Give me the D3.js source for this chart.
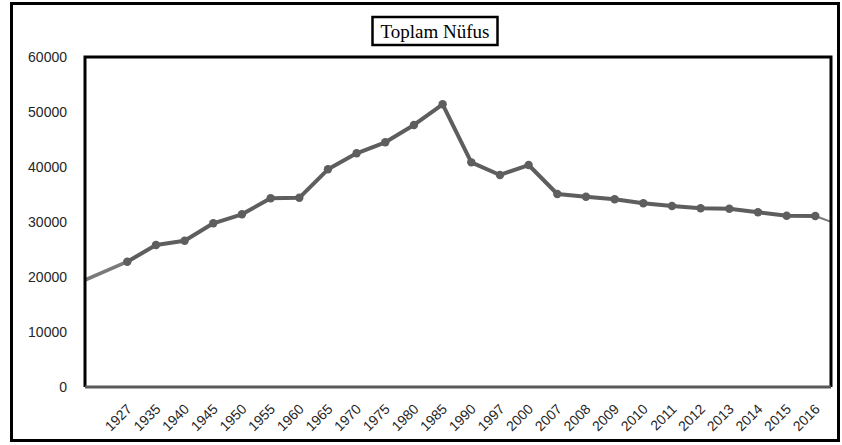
<!DOCTYPE html>
<html>
<head>
<meta charset="utf-8">
<script src="https://cdn.jsdelivr.net/npm/d3@7"></script>
<style>
  html, body { margin: 0; padding: 0; background: #fff; }
  svg { display: block; }
</style>
</head>
<body>
<svg id="chart"></svg>
<script>
// Data
const years = ['1927', '1935', '1940', '1945', '1950', '1955', '1960', '1965', '1970', '1975',
  '1980', '1985', '1990', '1997', '2000', '2007', '2008', '2009', '2010', '2011',
  '2012', '2013', '2014', '2015', '2016'];
const population = [22780, 25820, 26600, 29760, 31400, 34310, 34400, 39580, 42490, 44490,
  47640, 51400, 40850, 38550, 40360, 35090, 34600, 34130, 33400, 32910,
  32490, 32420, 31760, 31150, 31090];
// line continues to the plot edges (values where it meets the frame)
const edgeValues = [19450, 30050];
const yTicks = [0, 10000, 20000, 30000, 40000, 50000, 60000];
const title = 'Toplam Nüfus';

const width = 842;
const height = 445;
const plot = { left: 85, right: 831, top: 57, bottom: 387 };

const svg = d3.select('#chart')
  .attr('width', width)
  .attr('height', height);

// Outer frame
svg.append('rect')
  .attr('x', 11.5)
  .attr('y', 3.5)
  .attr('width', 827)
  .attr('height', 437)
  .attr('fill', 'none')
  .attr('stroke', '#000')
  .attr('stroke-width', 3);

// Scales
const xScale = d3.scalePoint()
  .domain(years)
  .range([127.3, 815.3]);

const yScale = d3.scaleLinear()
  .domain([0, 60000])
  .range([plot.bottom, plot.top]);

// Y axis labels
const yAxis = d3.axisLeft(yScale)
  .tickValues(yTicks)
  .tickSize(0)
  .tickPadding(0)
  .tickFormat(d => d);

svg.append('g')
  .attr('transform', 'translate(67,0)')
  .call(yAxis)
  .call(g => g.select('.domain').remove())
  .selectAll('text')
  .attr('dy', '0.35em')
  .style('font-family', '"Liberation Sans", Arial, sans-serif')
  .style('font-size', '14px')
  .style('fill', '#262626');

// X axis labels, rotated
const xAxis = d3.axisBottom(xScale)
  .tickSize(0)
  .tickPadding(0);

svg.append('g')
  .attr('transform', `translate(0,${plot.bottom})`)
  .call(xAxis)
  .call(g => g.select('.domain').remove())
  .selectAll('text')
  .attr('y', 0)
  .attr('dy', 0)
  .attr('transform', 'translate(5,23) rotate(-45)')
  .style('text-anchor', 'end')
  .style('font-family', '"Liberation Sans", Arial, sans-serif')
  .style('font-size', '14px')
  .style('fill', '#262626');

// Clip for the line
svg.append('defs').append('clipPath')
  .attr('id', 'plot-clip')
  .append('rect')
  .attr('x', plot.left)
  .attr('y', plot.top)
  .attr('width', plot.right - plot.left)
  .attr('height', plot.bottom - plot.top);

const lineGen = d3.line()
  .x(d => d[0])
  .y(d => yScale(d[1]));

const pts = years.map((y, i) => [xScale(y), population[i]]);

// Edge segments (lighter)
svg.append('path')
  .attr('clip-path', 'url(#plot-clip)')
  .attr('d', lineGen([[plot.left, edgeValues[0]], pts[0]]))
  .attr('fill', 'none')
  .attr('stroke', '#7a7a7a')
  .attr('stroke-width', 3.5);

svg.append('path')
  .attr('clip-path', 'url(#plot-clip)')
  .attr('d', lineGen([pts[pts.length - 1], [plot.right, edgeValues[1]]]))
  .attr('fill', 'none')
  .attr('stroke', '#7a7a7a')
  .attr('stroke-width', 2);

// Main line
svg.append('path')
  .attr('d', lineGen(pts))
  .attr('fill', 'none')
  .attr('stroke', '#5e5e5e')
  .attr('stroke-width', 4)
  .attr('stroke-linejoin', 'round');

// Markers
svg.append('g')
  .selectAll('circle')
  .data(pts)
  .enter()
  .append('circle')
  .attr('cx', d => d[0])
  .attr('cy', d => yScale(d[1]))
  .attr('r', 4.2)
  .attr('fill', '#5e5e5e');

// Plot frame
svg.append('path')
  .attr('d', `M${plot.left},${plot.bottom} V${plot.top} H${plot.right} V${plot.bottom}`)
  .attr('fill', 'none')
  .attr('stroke', '#000')
  .attr('stroke-width', 3);

// X axis line
svg.append('line')
  .attr('x1', plot.left)
  .attr('x2', plot.right)
  .attr('y1', plot.bottom)
  .attr('y2', plot.bottom)
  .attr('stroke', '#595959')
  .attr('stroke-width', 3);

// Title box
const titleG = svg.append('g');
titleG.append('rect')
  .attr('x', 372.5)
  .attr('y', 17)
  .attr('width', 125)
  .attr('height', 28)
  .attr('fill', '#fff')
  .attr('stroke', '#000')
  .attr('stroke-width', 2.5);

titleG.append('text')
  .attr('x', 435)
  .attr('y', 38)
  .attr('text-anchor', 'middle')
  .style('font-family', '"Liberation Serif", "Times New Roman", serif')
  .style('font-size', '19px')
  .style('fill', '#000')
  .text(title);
</script>
</body>
</html>
